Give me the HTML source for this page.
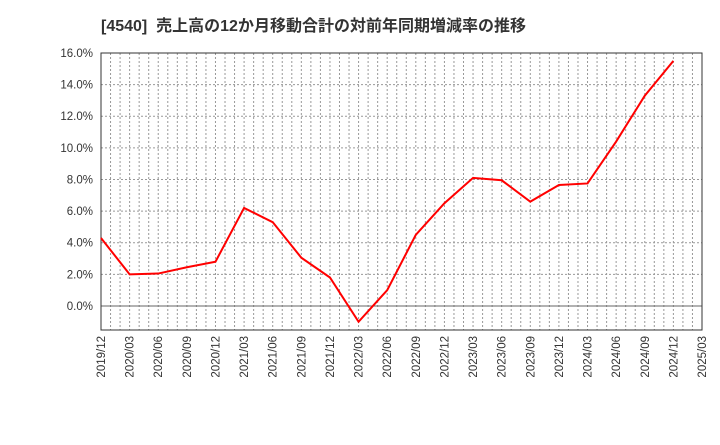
<!DOCTYPE html>
<html><head><meta charset="utf-8"><style>
body{margin:0;background:#fff;font-family:"Liberation Sans","Noto Sans CJK JP",sans-serif}
</style></head><body>
<svg id="c" width="720" height="440" xmlns="http://www.w3.org/2000/svg">
<text x="101" y="31" font-size="16" font-weight="bold" fill="#333" xml:space="preserve" style="white-space:pre">[4540]  売上高の12か月移動合計の対前年同期増減率の推移</text>
<g id="grid"></g><g id="axes"></g><g id="series"></g>
</svg>
<script>
const categories=["2019/12","2020/03","2020/06","2020/09","2020/12","2021/03","2021/06","2021/09","2021/12","2022/03","2022/06","2022/09","2022/12","2023/03","2023/06","2023/09","2023/12","2024/03","2024/06","2024/09","2024/12","2025/03"];
const values=[4.3,2.0,2.05,2.45,2.8,6.2,5.3,3.05,1.8,-1.0,1.0,4.5,6.5,8.1,7.95,6.6,7.65,7.75,10.4,13.3,15.5];
const yTicks=[0,2,4,6,8,10,12,14,16];
const L=101,R=702,T=53,B=330,yMin=-1.52,yMax=16;
const ns="http://www.w3.org/2000/svg";
const xs=i=>L+(R-L)*i/(categories.length-1);
const ys=v=>B-(v-yMin)/(yMax-yMin)*(B-T);
function mk(t,a,p){const e=document.createElementNS(ns,t);for(const k in a)e.setAttribute(k,a[k]);p.appendChild(e);return e;}
const g=document.getElementById('grid'),ax=document.getElementById('axes'),s=document.getElementById('series');
const nm=(categories.length-1)*3;
for(let m=1;m<nm;m++){const x=L+(R-L)*m/nm;const l=mk('line',{x1:x,x2:x,y1:T,y2:B,stroke:'#999','stroke-dasharray':'2,2','stroke-width':1},g);

}
yTicks.forEach(v=>{const y=ys(v);const l=mk('line',{x1:L,x2:R,y1:y,y2:y,stroke:v===0?'#666':'#999','stroke-dasharray':v===0?'none':'2,2','stroke-width':1},g);


const t=mk('text',{x:L-8,y:y+4,'text-anchor':'end','font-size':11.5,fill:'#333'},ax);t.textContent=v.toFixed(1)+'%';

});
categories.forEach((c,i)=>{const x=xs(i);const t=mk('text',{x:x+4,y:B+6,'text-anchor':'end','font-size':11.5,fill:'#333',transform:`rotate(-90 ${x+4} ${B+6})`},ax);t.textContent=c;

});
const f=mk('rect',{x:L,y:T,width:R-L,height:B-T,fill:'none',stroke:'#333','stroke-width':1},ax);


const p=mk('polyline',{points:values.map((v,i)=>xs(i)+','+ys(v)).join(' '),fill:'none',stroke:'#f00','stroke-width':2},s);


</script>
</body></html>
